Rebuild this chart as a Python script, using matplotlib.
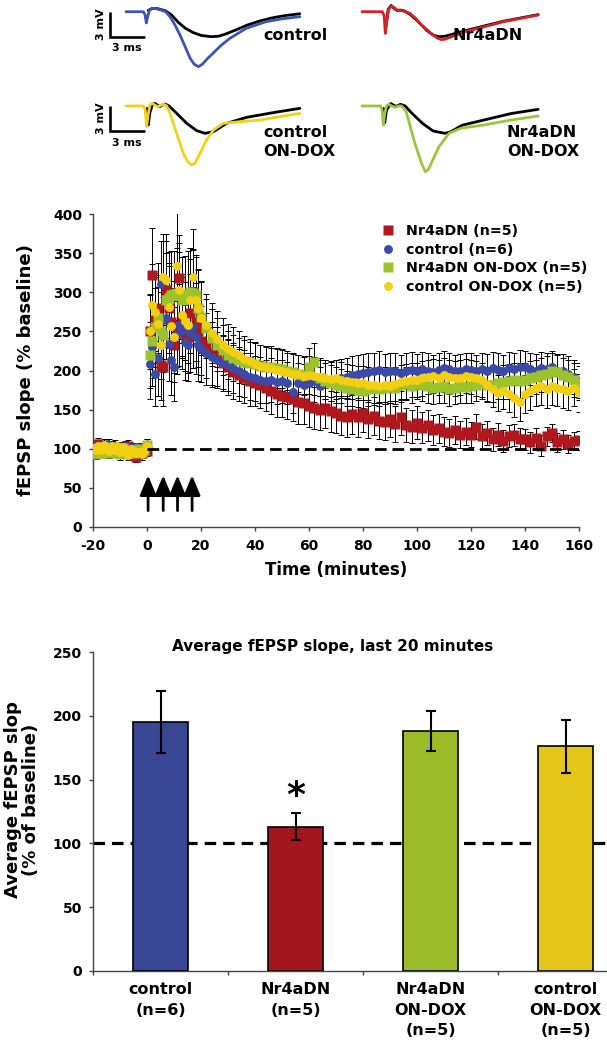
import numpy as np
import matplotlib
matplotlib.use('Agg')
import matplotlib.pyplot as plt

plt.rcParams['font.family'] = ['DejaVu Sans']
plt.rcParams['font.weight'] = 'bold'
plt.rcParams['axes.unicode_minus'] = False

W, H = 607, 1044
fig = plt.figure(figsize=(W / 100, H / 100), dpi=100)


def fx(px):
    return px / W


def fy(py):
    return 1 - py / H


# ---------------------------------------------------------------- data
# example fEPSP traces (ms, mV relative to baseline)
ctrl_t = [0, 1.48, 1.62, 1.74, 1.86, 2.0, 2.25, 2.5, 2.9, 3.4, 3.77, 4.2, 4.63, 5.1, 5.5,
          5.85, 6.2, 6.55, 7.0, 7.45, 8.1, 8.9, 10.3, 12.0, 13.4, 14.9]
ctrl_v = [0, 0, -0.3, -1.35, -0.6, 0.15, 0.38, 0.4, 0.25, 0.0, -0.6, -1.6, -2.8, -4.3, -5.6,
          -6.3, -6.6, -6.3, -5.6, -5.0, -4.1, -3.2, -2.0, -1.2, -0.85, -0.6]
ctrl_black_t = [1.9, 2.25, 2.55, 2.9, 3.4, 3.9, 4.5, 5.1, 5.75, 6.45, 7.3, 7.9, 8.5, 9.4,
                10.4, 11.5, 12.5, 13.7, 14.9]
ctrl_black_v = [0.15, 0.4, 0.4, 0.3, 0.1, -0.4, -1.3, -2.0, -2.5, -2.85, -3.0, -2.95, -2.7,
                -2.2, -1.6, -1.1, -0.75, -0.45, -0.25]

nr4_t = [0, 1.75, 1.9, 2.0, 2.12, 2.25, 2.5, 2.75, 3.0, 3.3, 3.6, 4.1, 4.6, 5.1, 5.6, 6.1,
         6.5, 6.8, 7.1, 7.5, 8.8, 10.5, 12.1, 13.6, 15.1]
nr4_v = [0, 0, -0.5, -2.6, -1.2, 0.2, 0.68, 0.5, 0.2, 0.15, 0.08, -0.2, -0.8, -1.6, -2.2,
         -2.8, -3.2, -3.35, -3.3, -3.1, -2.4, -1.8, -1.2, -0.8, -0.4]
nr4_black_t = [2.0, 2.12, 2.25, 2.5, 2.75, 3.0, 3.3, 3.6, 4.1, 4.6, 5.1, 5.6, 6.1, 6.6, 7.1,
               7.5, 8.8, 10.5, 12.1, 13.6, 15.1]
nr4_black_v = [-2.2, -1.0, 0.3, 0.75, 0.4, 0.15, 0.2, 0.1, -0.3, -0.9, -1.6, -2.3, -2.8, -3.0,
               -2.95, -2.8, -2.3, -1.7, -1.15, -0.75, -0.35]

cdox_t = [0, 1.5, 1.65, 1.77, 1.9, 2.05, 2.25, 2.5, 2.75, 3.0, 3.25, 3.5, 3.77, 4.34, 4.91,
          5.3, 5.63, 5.9, 6.2, 6.9, 7.5, 8.34, 9.77, 11.5, 13.2, 14.9]
cdox_v = [0, 0, -0.5, -2.48, -1.0, 0.1, 0.3, 0.1, -0.1, 0.1, 0.2, 0.0, -0.88, -3.28, -5.68,
          -6.7, -7.08, -6.9, -6.08, -4.08, -2.88, -2.08, -1.88, -1.68, -1.28, -0.88]
cdox_black_t = [1.8, 1.91, 2.05, 2.25, 2.48, 2.7, 2.9, 3.1, 3.34, 3.7, 4.34, 5.2, 6.06, 6.77,
                7.5, 8.63, 10.34, 12.6, 14.9]
cdox_black_v = [-0.3, -2.28, -0.8, 0.1, 0.32, 0.1, -0.08, 0.1, 0.24, 0.0, -0.88, -2.08, -2.96,
                -3.28, -3.08, -2.08, -1.36, -0.8, -0.28]

ndox_t = [0, 1.6, 1.72, 1.83, 1.95, 2.1, 2.31, 2.55, 2.83, 3.13, 3.4, 3.79, 4.45, 5.1, 5.43,
          5.7, 5.93, 6.6, 7.46, 8.45, 10.45, 12.8, 15.1]
ndox_v = [0, 0, -0.5, -2.28, -0.9, 0.0, 0.2, 0.0, -0.16, 0.0, 0.0, -0.68, -4.08, -6.88, -7.88,
          -7.6, -6.88, -4.88, -3.28, -2.68, -2.28, -1.68, -1.2]
ndox_black_t = [1.85, 1.95, 2.1, 2.45, 2.9, 3.3, 3.7, 4.3, 5.2, 6.1, 7.1, 7.6, 8.6, 10.45,
                12.8, 15.1]
ndox_black_v = [-0.3, -2.0, -0.5, 0.3, -0.05, 0.2, 0.0, -0.9, -2.1, -3.0, -3.28, -3.1, -2.3,
                -1.68, -0.9, -0.4]

# time course sampling (minutes)
t_base = list(range(-20, 1))
t_early = list(range(1, 21))
t_late = list(range(22, 161, 2))

red_base = [104, 98, 106, 97, 101, 95, 104, 99, 96, 102, 94, 100, 97, 103, 92, 99, 90, 101, 95, 98, 97]
blue_base = [100, 104, 97, 102, 99, 106, 95, 101, 103, 98, 100, 96, 104, 99, 101, 97, 102, 95, 99, 96, 100]
green_base = [96, 93, 99, 95, 102, 97, 94, 100, 96, 98, 93, 101, 97, 95, 99, 94, 97, 100, 96, 99, 105]
yellow_base = [101, 99, 104, 98, 105, 100, 97, 103, 99, 104, 96, 102, 98, 92, 100, 97, 94, 96, 93, 99, 104]

red_base_err = [7, 6, 8, 6, 7, 5, 8, 6, 7, 6, 5, 7, 6, 8, 5, 6, 7, 6, 5, 7, 6]
blue_base_err = [6, 7, 5, 8, 6, 7, 6, 5, 8, 6, 7, 5, 6, 7, 6, 8, 5, 6, 7, 6, 5]
green_base_err = [5, 6, 7, 5, 6, 8, 6, 7, 5, 6, 7, 6, 5, 7, 6, 5, 7, 6, 8, 6, 7]
yellow_base_err = [6, 5, 7, 6, 8, 6, 5, 7, 6, 5, 8, 6, 7, 6, 5, 7, 6, 5, 7, 6, 8]

red_early = [250, 322, 265, 280, 207, 205, 303, 280, 262, 233, 255, 318, 268, 248, 243, 273, 300, 262, 250, 238]
blue_early = [208, 230, 196, 216, 311, 265, 267, 234, 214, 205, 245, 258, 252, 236, 233, 248, 255, 243, 232, 228]
green_early = [220, 238, 255, 267, 250, 246, 290, 293, 297, 298, 299, 296, 290, 292, 298, 300, 299, 296, 280, 268]
yellow_early = [251, 284, 275, 259, 233, 319, 316, 281, 257, 243, 334, 303, 271, 263, 258, 290, 319, 290, 280, 267]

red_early_err = [48, 60, 55, 58, 45, 50, 62, 58, 52, 48, 50, 55, 52, 48, 46, 50, 55, 50, 46, 44]
blue_early_err = [45, 50, 42, 48, 55, 50, 52, 48, 45, 44, 50, 52, 50, 48, 46, 50, 52, 48, 45, 43]
green_early_err = [42, 48, 50, 55, 50, 48, 60, 58, 56, 55, 58, 56, 55, 54, 55, 56, 55, 52, 48, 45]
yellow_early_err = [45, 52, 50, 48, 44, 55, 58, 52, 48, 46, 70, 60, 52, 50, 48, 52, 62, 55, 50, 47]

red_late = [232, 222, 218, 210, 204, 198, 194, 190, 186, 184,
            182, 178, 174, 170, 168, 166, 164, 160, 158, 155,
            152, 150, 152, 148, 146, 142, 140, 144, 140, 146,
            138, 142, 136, 134, 138, 132, 140, 130, 128, 133,
            127, 130, 124, 126, 122, 120, 124, 118, 122, 118,
            128, 116, 120, 112, 118, 110, 116, 118, 113, 112,
            108, 114, 104, 116, 120, 108, 112, 106, 110, 111]
blue_late = [222, 217, 213, 210, 207, 203, 199, 196, 192, 190,
             188, 186, 188, 185, 186, 184, 173, 184, 182, 184,
             186, 180, 188, 186, 188, 190, 192, 194, 196, 197,
             198, 199, 201, 198, 199, 200, 197, 199, 201, 199,
             202, 200, 198, 201, 203, 202, 199, 200, 202, 201,
             199, 202, 200, 203, 201, 199, 203, 202, 205, 204,
             202, 200, 203, 202, 204, 200, 199, 196, 192, 187]
green_late = [254, 242, 233, 226, 220, 216, 213, 211, 209, 208,
              206, 204, 205, 203, 202, 200, 198, 196, 194, 205,
              211, 190, 186, 184, 182, 180, 177, 176, 175, 174,
              176, 178, 176, 178, 180, 178, 181, 183, 180, 184,
              182, 180, 178, 179, 180, 176, 178, 180, 179, 180,
              182, 184, 182, 181, 184, 185, 186, 188, 187, 188,
              190, 192, 194, 196, 200, 198, 194, 192, 188, 184]
yellow_late = [258, 248, 240, 233, 228, 224, 220, 215, 212, 208,
               206, 204, 203, 201, 200, 198, 196, 195, 193, 194,
               193, 192, 190, 189, 190, 188, 186, 185, 184, 184,
               182, 181, 180, 182, 180, 183, 185, 186, 188, 188,
               190, 192, 193, 191, 194, 192, 190, 191, 193, 192,
               190, 188, 182, 176, 171, 174, 170, 165, 160, 170,
               174, 178, 180, 176, 180, 178, 176, 174, 178, 171]

red_late_err = [42, 40, 38, 36, 35, 34, 33, 32, 31, 30,
                30, 30, 29, 29, 28, 28, 28, 28, 27, 27,
                27, 26, 26, 26, 26, 25, 25, 25, 25, 24,
                24, 24, 24, 23, 23, 23, 22, 22, 21, 21,
                20, 20, 19, 19, 18, 18, 18, 17, 17, 16,
                16, 16, 15, 15, 15, 14, 14, 14, 14, 13,
                13, 13, 13, 12, 12, 12, 12, 12, 12, 12]
blue_late_err = [40, 38, 36, 34, 33, 32, 31, 30, 30, 29,
                 29, 28, 28, 28, 27, 27, 27, 26, 26, 26,
                 26, 25, 25, 25, 25, 25, 24, 24, 24, 24,
                 24, 24, 24, 23, 23, 23, 23, 23, 23, 22,
                 22, 22, 22, 22, 22, 21, 21, 21, 21, 21,
                 21, 21, 21, 21, 21, 21, 21, 21, 21, 21,
                 21, 21, 21, 21, 21, 21, 22, 22, 22, 22]
green_late_err = [38, 36, 34, 32, 31, 30, 29, 28, 28, 27,
                  27, 26, 26, 26, 25, 25, 25, 24, 24, 24,
                  24, 23, 23, 23, 23, 22, 22, 22, 22, 22,
                  22, 22, 21, 21, 21, 21, 21, 21, 21, 21,
                  21, 21, 21, 21, 21, 21, 21, 21, 21, 21,
                  21, 21, 21, 21, 21, 22, 22, 22, 22, 22,
                  22, 22, 22, 22, 22, 22, 22, 22, 22, 22]
yellow_late_err = [40, 38, 36, 34, 32, 31, 30, 29, 28, 28,
                   27, 27, 26, 26, 26, 25, 25, 25, 24, 24,
                   24, 24, 23, 23, 23, 23, 22, 22, 22, 22,
                   22, 22, 22, 22, 22, 22, 22, 22, 22, 22,
                   22, 22, 22, 22, 22, 22, 22, 22, 22, 22,
                   22, 22, 22, 23, 23, 23, 23, 24, 24, 24,
                   24, 24, 24, 24, 24, 24, 24, 24, 24, 24]

series_labels = ['Nr4aDN (n=5)', 'control (n=6)', 'Nr4aDN ON-DOX (n=5)', 'control ON-DOX (n=5)']
arrow_times = [0.4, 6.0, 11.3, 16.7]
baseline_level = 100

# bar chart data
bar_groups = ['control\n(n=6)', 'Nr4aDN\n(n=5)', 'Nr4aDN\nON-DOX\n(n=5)', 'control\nON-DOX\n(n=5)']
bar_means = [195, 113, 188, 176]
bar_sems = [24.5, 10.5, 15.5, 21]
star_value = 137

# ---------------------------------------------------------------- traces
MS_PX = 35 / 3.0   # pixels per ms
MV_PX = 25 / 3.0   # pixels per mV


def trace_ax(x0, y0):
    left, right = x0 - 46, x0 + 220
    top, bottom = y0 - 14, y0 + 72
    ax = fig.add_axes([fx(left), fy(bottom), (right - left) / W, (bottom - top) / H])
    ax.set_xlim(-46 / MS_PX, 220 / MS_PX)
    ax.set_ylim(-72 / MV_PX, 14 / MV_PX)
    ax.axis('off')
    return ax


def scale_bar(ax):
    x0 = -16 / MS_PX
    ax.plot([x0, x0, x0 + 3], [0, -3, -3], color='black', lw=1.9, solid_capstyle='butt',
            solid_joinstyle='miter', clip_on=False)
    ax.text(x0 - 0.8, -1.5, '3 mV', rotation=90, ha='center', va='center', fontsize=8,
            weight='bold', clip_on=False)
    ax.text(x0 + 1.45, -4.4, '3 ms', ha='center', va='center', fontsize=8, weight='bold')


TLW = 2.0
trace_specs = [
    ((126, 11.7), ctrl_t, ctrl_v, ctrl_black_t, ctrl_black_v, '#3A55B4', True),
    ((362, 11.7), nr4_t, nr4_v, nr4_black_t, nr4_black_v, '#D42027', False),
    ((126, 106), cdox_t, cdox_v, cdox_black_t, cdox_black_v, '#F1D217', True),
    ((362, 106), ndox_t, ndox_v, ndox_black_t, ndox_black_v, '#9CC63A', False),
]
for (x0, y0), tc, vc, tb, vb, col, sb in trace_specs:
    ax = trace_ax(x0, y0)
    ax.plot(tb, vb, color='black', lw=TLW, solid_capstyle='round', zorder=2)
    ax.plot(tc, vc, color=col, lw=TLW, solid_capstyle='round', zorder=3)
    if sb:
        scale_bar(ax)

lab_kw = dict(fontsize=11.5, weight='bold', ha='left', va='center', linespacing=1.3)
fig.text(fx(263), fy(35), 'control', **lab_kw)
fig.text(fx(453), fy(35), 'Nr4aDN', **lab_kw)
fig.text(fx(263), fy(142), 'control\nON-DOX', **lab_kw)
fig.text(fx(507), fy(142), 'Nr4aDN\nON-DOX', **lab_kw)

# ---------------------------------------------------------------- time course
ax1 = fig.add_axes([fx(93), fy(527), 486 / W, 313 / H])
t_all = t_base + t_early + t_late
red_vals = red_base + red_early + red_late
blue_vals = blue_base + blue_early + blue_late
green_vals = green_base + green_early + green_late
yellow_vals = yellow_base + yellow_early + yellow_late
red_errs = red_base_err + red_early_err + red_late_err
blue_errs = blue_base_err + blue_early_err + blue_late_err
green_errs = green_base_err + green_early_err + green_late_err
yellow_errs = yellow_base_err + yellow_early_err + yellow_late_err

tc_specs = [
    (red_vals, red_errs, '#B0181E', 's', 6.8),
    (blue_vals, blue_errs, '#3B4AA8', 'o', 6.4),
    (green_vals, green_errs, '#9CC22C', 's', 6.8),
    (yellow_vals, yellow_errs, '#F3CF12', 'o', 6.4),
]
for vals, errs, col, mk, ms in tc_specs:
    ax1.errorbar(t_all, vals, yerr=errs, fmt='none', ecolor='black', elinewidth=0.7,
                 capsize=2.2, capthick=0.7, zorder=2)
for (vals, errs, col, mk, ms), lab in zip(tc_specs, series_labels):
    ax1.plot(t_all, vals, ls='none', marker=mk, ms=ms, color=col, mec='none', label=lab,
             zorder=3)

ax1.hlines(baseline_level, 0, 160, colors='black', linestyles=(0, (4.2, 2.1)), lw=2.0, zorder=4)
for ta in arrow_times:
    ax1.annotate('', xy=(ta, 66), xytext=(ta, 21),
                 arrowprops=dict(arrowstyle='-|>,head_length=0.6,head_width=0.25', lw=2.0,
                                 color='black', mutation_scale=20, shrinkA=0, shrinkB=0))

ax1.set_xlim(-20, 160)
ax1.set_ylim(0, 400)
ax1.set_xticks(range(-20, 161, 20))
ax1.set_yticks(range(0, 401, 50))
for s in ['top', 'right']:
    ax1.spines[s].set_visible(False)
for s in ['left', 'bottom']:
    ax1.spines[s].set_color('#444444')
    ax1.spines[s].set_linewidth(1.0)
ax1.tick_params(axis='both', direction='out', length=3, width=1.0, color='#444444',
                labelsize=10)
ax1.tick_params(axis='y', pad=5)
ax1.tick_params(axis='x', pad=6)
for lbl in ax1.get_xticklabels() + ax1.get_yticklabels():
    lbl.set_fontweight('bold')

leg = ax1.legend(loc='upper left', bbox_to_anchor=((380.6 - 93) / 486, (527 - 224) / 313),
                 frameon=False, fontsize=10.3, handlelength=1.0, handletextpad=0.8,
                 labelspacing=0.33, borderpad=0, borderaxespad=0)
for txt in leg.get_texts():
    txt.set_fontweight('bold')

fig.text(fx(26), fy(370), 'fEPSP slope (% baseline)', rotation=90, ha='center', va='center',
         fontsize=13, weight='bold')
fig.text(fx(336), fy(570), 'Time (minutes)', ha='center', va='center', fontsize=12,
         weight='bold')

# ---------------------------------------------------------------- bar chart
ax2 = fig.add_axes([fx(93), fy(971), 540 / W, 319 / H])
bar_colors = ['#394795', '#A3161D', '#9BBB28', '#E5C61A']
xpos = np.arange(len(bar_means))
ax2.bar(xpos, bar_means, width=0.41, color=bar_colors, edgecolor='black', lw=1.2, zorder=3)
ax2.errorbar(xpos, bar_means, yerr=bar_sems, fmt='none', ecolor='black', elinewidth=1.5,
             capsize=3.5, capthick=1.5, zorder=4)
ax2.axhline(baseline_level, color='black', ls=(0, (3.6, 2.2)), lw=2.3, zorder=1)
ax2.text(1, star_value, '*', ha='center', va='center', fontsize=26, weight='bold')

ax2.set_xlim(-0.5, 3.5)
ax2.set_ylim(0, 250)
ax2.set_yticks(range(0, 251, 50))
ax2.set_xticks(xpos)
ax2.set_xticklabels(bar_groups, fontsize=11.5, weight='bold', linespacing=1.45)
ax2.set_xticks(np.arange(-0.5, 3.6, 1.0), minor=True)
ax2.tick_params(axis='x', which='major', length=0, pad=8)
ax2.tick_params(axis='x', which='minor', length=3, width=1.0, color='#444444', direction='out')
ax2.tick_params(axis='y', direction='out', length=3, width=1.0, color='#444444', labelsize=10,
                pad=5)
for lbl in ax2.get_yticklabels():
    lbl.set_fontweight('bold')
for s in ['top', 'right']:
    ax2.spines[s].set_visible(False)
for s in ['left', 'bottom']:
    ax2.spines[s].set_color('#444444')
    ax2.spines[s].set_linewidth(1.0)

fig.text(fx(333), fy(646), 'Average fEPSP slope, last 20 minutes', ha='center', va='center',
         fontsize=11, weight='bold')
fig.text(fx(22), fy(800), 'Average fEPSP slop\n(% of baseline)', rotation=90, ha='center',
         va='center', fontsize=13, weight='bold', linespacing=1.05)

fig.savefig('out.png', dpi=100)
